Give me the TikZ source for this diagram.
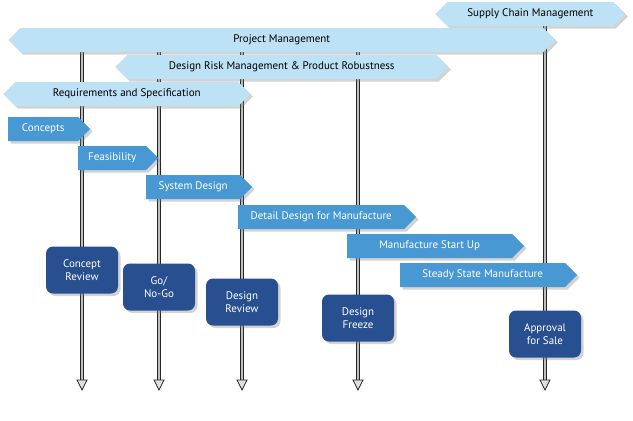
\documentclass[tikz,border=0pt]{standalone}
\usepackage{fontspec}
\setmainfont{PT Sans}
\usetikzlibrary{shapes.symbols,shadows,arrows.meta}
\definecolor{pale}{RGB}{189,225,245}
\definecolor{mid}{RGB}{72,152,212}
\definecolor{deep}{RGB}{40,80,145}
\tikzset{
	phase/.style={signal, signal to=east and west, fill=pale, draw=none, anchor=west,
		minimum height=24pt, inner sep=0pt, font=\fontsize{11}{12}\selectfont, drop shadow={opacity=0.35}},
	stage/.style={signal, signal to=east, fill=mid, draw=none, anchor=west, text=white,
		minimum height=24pt, inner sep=0pt, font=\fontsize{11}{12}\selectfont, drop shadow={opacity=0.35}},
	gate/.style={rectangle, rounded corners=7pt, fill=deep, text=white, minimum width=72pt,
		minimum height=47pt, align=center, font=\fontsize{11}{13}\selectfont, drop shadow={opacity=0.35}},
	track/.style={draw=gray!30!black, double=gray!50, double distance=2pt, line width=1pt},
	tip/.style={draw=gray!30!black, fill=gray!25, line width=0.8pt}
}
\begin{document}
\begin{tikzpicture}[x=1pt, y=-1pt]
	\useasboundingbox (0, 0) rectangle (633, 421);
	% timelines
	\foreach \x/\top in {82/40, 159/40, 242/40, 358/40, 545/20} {
		\coordinate (t\x) at (\x, \top);
		\coordinate (b\x) at (\x, 380);
		\draw[track] (t\x) -- (b\x);
		\draw[tip] (b\x) ++(-5, 0) -- ++(10, 0) -- ++(-5, 10) -- cycle;
	}
	% bars
	\node[phase, minimum width=190pt] (supply) at (435, 14) {Supply Chain Management};
	\node[phase, minimum width=547pt] (pm) at (8, 40) {Project Management};
	\node[phase, minimum width=333pt] (risk) at (115, 67) {Design Risk Management \& Product Robustness};
	\node[phase, minimum width=247pt] (req) at (3, 94) {Requirements and Specification};
	% stages
	\node[stage, minimum width=82pt] (concepts) at (8, 129) {Concepts\hspace{22pt}};
	\node[stage, minimum width=80pt] (feas) at (78, 158) {Feasibility\hspace{10pt}};
	\node[stage, minimum width=106pt] (sysdes) at (146, 187) {System Design\hspace{10pt}};
	\node[stage, minimum width=178pt] (detail) at (238, 217) {Detail Design for Manufacture\hspace{10pt}};
	\node[stage, minimum width=177pt] (startup) at (347, 246) {Manufacture Start Up};
	\node[stage, minimum width=177pt] (steady) at (400, 275) {Steady State Manufacture};
	% gates
	\node[gate] (concrev) at (82, 270) {Concept\\Review};
	\node[gate] (gonogo) at (159, 287) {Go/\\No-Go};
	\node[gate] (desrev) at (242, 302) {Design\\Review};
	\node[gate] (freeze) at (358, 318) {Design\\Freeze};
	\node[gate] (approval) at (545, 334) {Approval\\for Sale};
\end{tikzpicture}
\end{document}
